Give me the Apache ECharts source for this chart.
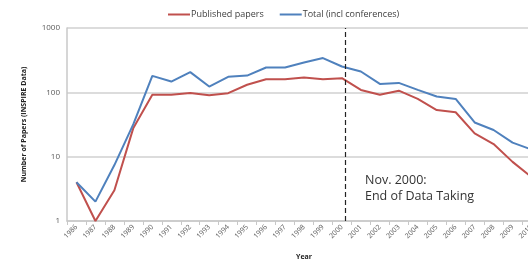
<!DOCTYPE html>
<html>
<head>
<meta charset="utf-8">
<script src="https://cdn.jsdelivr.net/npm/echarts@6/dist/echarts.min.js"></script>
<style>
  html, body { margin: 0; padding: 0; background: #fff; }
  #chart { width: 528px; height: 265px; }
</style>
</head>
<body>
<div id="chart"></div>
<script>
  // values
  var years = ['1986', '1987', '1988', '1989', '1990', '1991', '1992', '1993', '1994', '1995',
    '1996', '1997', '1998', '1999', '2000', '2001', '2002', '2003', '2004', '2005',
    '2006', '2007', '2008', '2009', '2010']
  var published = [4, 1, 3, 28, 92, 92, 98, 90, 97, 131, 160, 160, 170, 160, 166, 109, 92, 106, 79, 53, 49, 23, 15.7, 8.3, 4.8]
  var total = [4, 2, 7.4, 32, 180, 147, 206, 123, 174, 182, 243, 243, 291, 341, 252, 211, 135, 140, 109, 86, 79, 34, 26, 16.5, 12.9]
  // end of data taking, in category units (Nov. 2000)
  var endOfData = 14.7

  var font = 'Open Sans'
  var chart = echarts.init(document.getElementById('chart'))

  var option = {
    animation: false,
    textStyle: { fontFamily: font },
    legend: {
      data: ['Published papers', 'Total (incl conferences)'],
      left: 163,
      top: 5,
      itemWidth: 22,
      itemHeight: 2,
      itemGap: 16,
      icon: 'rect',
      textStyle: { fontSize: 9, color: '#404040', fontFamily: font, padding: [0, 0, 0, -4] }
    },
    grid: { left: 67, right: -13, top: 28, bottom: 44, outerBoundsMode: 'none', containLabel: false },
    xAxis: [{
      type: 'category',
      data: years,
      name: 'Year',
      nameLocation: 'middle',
      nameGap: 32,
      nameTextStyle: { fontSize: 7, fontWeight: 'bold', color: '#222' },
      axisLine: { lineStyle: { color: '#c8c8c8', width: 1.5 } },
      axisTick: { show: true, length: 4, lineStyle: { color: '#c8c8c8' } },
      axisLabel: { rotate: 45, fontSize: 7, color: '#595959', margin: 5, interval: 0 }
    }, {
      type: 'value',
      min: 0,
      max: 25,
      show: false
    }],
    yAxis: {
      type: 'log',
      logBase: 10,
      min: 1,
      max: 1000,
      name: 'Number of Papers (INSPIRE Data)',
      nameLocation: 'middle',
      nameGap: 40,
      nameTextStyle: { fontSize: 7, fontWeight: 'bold', color: '#222' },
      axisLine: { show: true, lineStyle: { color: '#c8c8c8', width: 1.5 } },
      axisTick: { show: false },
      axisLabel: {
        fontSize: 8,
        color: '#595959',
        margin: 7,
        formatter: function (v) { return String(Math.round(v)) }
      },
      splitLine: { lineStyle: { color: '#d0d0d0', width: 1.5 } }
    },
    graphic: [{
      type: 'text',
      left: 365,
      top: 172,
      style: {
        text: 'Nov. 2000:\nEnd of Data Taking',
        fontSize: 12.5,
        lineHeight: 16,
        fill: '#333',
        fontFamily: font
      }
    }],
    series: [
      {
        name: 'Published papers',
        type: 'line',
        data: published,
        symbol: 'none',
        lineStyle: { color: '#c0504d', width: 2 },
        itemStyle: { color: '#c0504d' }
      },
      {
        name: 'Total (incl conferences)',
        type: 'line',
        data: total,
        symbol: 'none',
        lineStyle: { color: '#4f81bd', width: 2 },
        itemStyle: { color: '#4f81bd' }
      },
      {
        name: 'end',
        type: 'line',
        xAxisIndex: 1,
        data: [],
        markLine: {
          silent: true,
          symbol: 'none',
          label: { show: false },
          lineStyle: { color: '#222', width: 1.2, type: [5, 3] },
          data: [{ xAxis: endOfData }]
        }
      }
    ]
  }

  chart.setOption(option)
</script>
</body>
</html>
